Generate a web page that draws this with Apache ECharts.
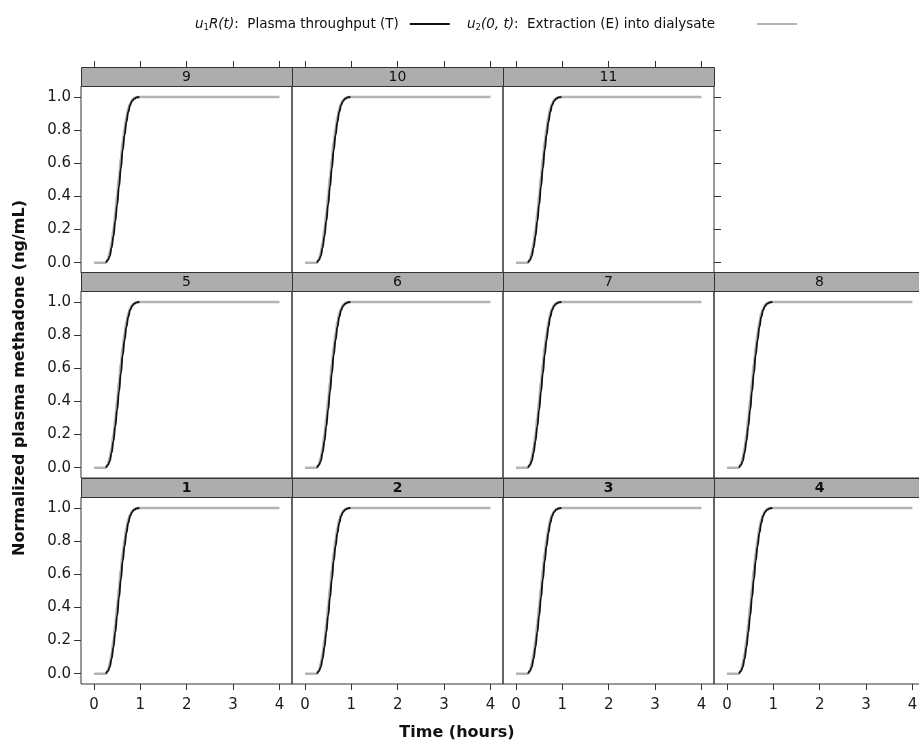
<!DOCTYPE html>
<html style="height: 100%">
<head>
    <meta charset="utf-8">
</head>
<body style="height: 100%; margin: 0; background: #fff">
    <div id="container" style="width: 919px; height: 742px"></div>
    <script type="text/javascript" src="https://cdn.jsdelivr.net/npm/echarts@6.0.0/dist/echarts.min.js"></script>
    <script type="text/javascript">
        // panel labels, in lattice order (top row first)
        var panelLabels = ['9', '10', '11', '5', '6', '7', '8', '1', '2', '3', '4'];

        // E: extraction into dialysate (grey)
        var timeE = [0, 0.25, 0.3, 0.34, 0.38, 0.42, 0.46, 0.5, 0.54, 0.58, 0.62, 0.66, 0.7, 0.74, 0.78, 0.83, 0.88, 0.95, 1.1, 2, 3, 4];
        var valE = [0, 0, 0.02, 0.06, 0.12, 0.2, 0.3, 0.41, 0.52, 0.63, 0.73, 0.81, 0.88, 0.93, 0.96, 0.985, 0.995, 1, 1, 1, 1, 1];

        // T: plasma throughput (black)
        var timeT = [0.26, 0.3, 0.34, 0.38, 0.42, 0.46, 0.5, 0.54, 0.58, 0.62, 0.66, 0.7, 0.74, 0.78, 0.82, 0.87, 0.92, 0.98];
        var valT = [0, 0.015, 0.04, 0.09, 0.16, 0.25, 0.35, 0.46, 0.57, 0.68, 0.77, 0.85, 0.91, 0.95, 0.975, 0.99, 0.997, 1];

        var xTicks = [0, 1, 2, 3, 4];
        var yTicks = [0, 0.2, 0.4, 0.6, 0.8, 1.0];

        function pairs(xs, ys) {
            var out = [];
            for (let i = 0; i < xs.length; i++) out.push([xs[i], ys[i]]);
            return out;
        }

        var dom = document.getElementById('container');
        var myChart = echarts.init(dom, null, {renderer: 'canvas'});

        var font = 'DejaVu Sans';
        var colLeft = [81, 292, 503, 714];
        var rowTop = [86, 291, 497];
        var panelW = 211, panelH = 187, stripH = 19;
        // row/col of each panel
        var slots = [[0,0],[0,1],[0,2],[1,0],[1,1],[1,2],[1,3],[2,0],[2,1],[2,2],[2,3]];

        var grids = [], xAxes = [], yAxes = [], series = [], graphics = [];
        for (let k = 0; k < panelLabels.length; k++) {
            var r = slots[k][0], c = slots[k][1];
            var lastInRow = (k == 2 || k == 6 || k == 10);
            grids.push({
                left: colLeft[c], top: rowTop[r], width: panelW, height: panelH,
                show: true, borderColor: '#333', borderWidth: 1, backgroundColor: 'transparent',
                containLabel: false, outerBoundsMode: 'none'
            });
            xAxes.push({
                gridIndex: k, type: 'value', min: -0.28, max: 4.27,
                position: r == 0 ? 'top' : 'bottom',
                offset: r == 0 ? stripH : 0,
                splitLine: {show: false},
                axisLine: {show: false, onZero: false},
                axisTick: {show: r != 1, inside: false, length: 6, customValues: xTicks,
                    lineStyle: {color: '#333'}},
                axisLabel: {show: r == 2, customValues: xTicks, margin: 14,
                    fontFamily: font, fontSize: 15, color: '#1a1a1a'}
            });
            yAxes.push({
                gridIndex: k, type: 'value', min: -0.062, max: 1.066,
                position: c == 0 ? 'left' : 'right',
                splitLine: {show: false},
                axisLine: {show: false, onZero: false},
                axisTick: {show: c == 0 || lastInRow, inside: false, length: 7, customValues: yTicks,
                    lineStyle: {color: '#333'}},
                axisLabel: {show: c == 0, customValues: yTicks, margin: 10,
                    fontFamily: font, fontSize: 15, color: '#1a1a1a',
                    formatter: function (v) { return v.toFixed(1); }}
            });
            series.push({
                name: 'E', type: 'line', xAxisIndex: k, yAxisIndex: k,
                data: pairs(timeE, valE), symbol: 'none', smooth: true, smoothMonotone: 'x',
                lineStyle: {color: '#b4b4b4', width: 2.5}, itemStyle: {color: '#b4b4b4'}, z: 2
            });
            series.push({
                name: 'T', type: 'line', xAxisIndex: k, yAxisIndex: k,
                data: pairs(timeT, valT), symbol: 'none', smooth: true, smoothMonotone: 'x',
                lineStyle: {color: '#111', width: 1.8}, itemStyle: {color: '#111'}, z: 3
            });
            // strip
            graphics.push({
                type: 'rect', z: 10,
                shape: {x: colLeft[c] + 0.5, y: rowTop[r] - stripH + 0.5, width: panelW, height: stripH},
                style: {fill: '#adadad', stroke: '#333', lineWidth: 1}
            });
            graphics.push({
                type: 'text', z: 11,
                x: colLeft[c] + panelW / 2, y: rowTop[r] - stripH / 2 + 1,
                style: {text: panelLabels[k], fill: '#111', font: (r == 2 ? 'bold ' : '') + '14px ' + font,
                    textAlign: 'center', textVerticalAlign: 'middle'}
            });
        }

        graphics.push({
            type: 'text', x: 20, y: 378, rotation: Math.PI / 2,
            style: {text: 'Normalized plasma methadone (ng/mL)', fill: '#111',
                font: 'bold 16px ' + font, textAlign: 'center', textVerticalAlign: 'middle'}
        });
        graphics.push({
            type: 'text', x: 457, y: 733,
            style: {text: 'Time (hours)', fill: '#111',
                font: 'bold 16px ' + font, textAlign: 'center', textVerticalAlign: 'middle'}
        });

        var rich = {
            i: {fontStyle: 'italic', fontFamily: font, fontSize: 13.5},
            s: {fontSize: 8.5, fontFamily: font, padding: [7, 0, 0, 0]}
        };
        function legendText(name) {
            if (name == 'T') return '{i|u}{s|1}{i|R(t)}:  Plasma throughput (T)';
            return '{i|u}{s|2}{i|(0, t)}:  Extraction (E) into dialysate';
        }
        function makeLegend(name, left, gap) {
            return {
                data: [{name: name, icon: 'rect'}],
                left: left, top: 12,
                align: 'right',
                itemWidth: 40, itemHeight: 2,
                textStyle: {fontFamily: font, fontSize: 13.5, color: '#111', padding: [0, gap, 0, 0], rich: rich},
                formatter: legendText
            };
        }

        var op = {
            animation: false,
            backgroundColor: '#fff',
            legend: [makeLegend('T', 190, 6), makeLegend('E', 462, 37)],
            grid: grids,
            xAxis: xAxes,
            yAxis: yAxes,
            series: series,
            graphic: graphics
        };
        myChart.setOption(op, true);
    </script>
</body>
</html>
